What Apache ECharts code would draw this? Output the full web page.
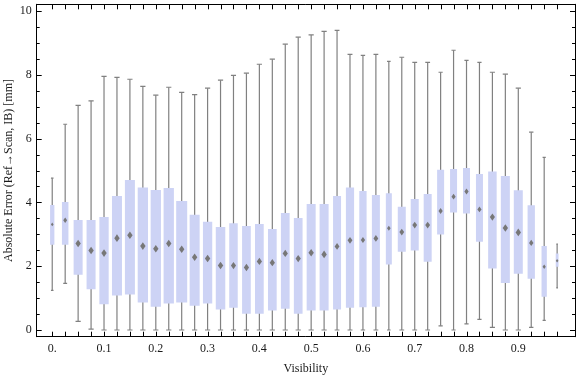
<!DOCTYPE html>
<html>
<head>
<meta charset="utf-8">
<script src="https://cdn.jsdelivr.net/npm/echarts@6/dist/echarts.min.js"></script>
<style>html,body{margin:0;padding:0;background:#fff}#c{width:576px;height:377px}</style>
</head>
<body>
<div id="c"></div>
<script>
// ---- data ----
const visibility = [0,0.025,0.05,0.075,0.1,0.125,0.15,0.175,0.2,0.225,0.25,0.275,0.3,0.325,0.35,0.375,0.4,0.425,0.45,0.475,0.5,0.525,0.55,0.575,0.6,0.625,0.65,0.675,0.7,0.725,0.75,0.775,0.8,0.825,0.85,0.875,0.9,0.925,0.95,0.975];
const whiskerLow = [1.24,1.46,0.27,0.03,0,0,0,0,0,0,0,0,0,0,0,0,0,0,0,0,0,0,0,0,0,0,0,0,0,0,0.13,0,0.19,0.33,0.08,0,0,0.08,0.3,1.32];
const q1 = [2.67,2.67,1.73,1.28,0.81,1.08,1.11,0.86,0.73,0.83,0.86,0.76,0.83,0.64,0.70,0.51,0.51,0.61,0.67,0.51,0.61,0.61,0.64,0.70,0.71,0.73,2.05,2.45,2.49,2.14,2.99,3.68,3.65,2.77,1.93,1.47,1.76,1.61,1.04,1.98];
const meanVal = [3.31,3.44,2.71,2.49,2.41,2.88,2.97,2.63,2.55,2.71,2.53,2.28,2.24,2.02,2.02,1.96,2.15,2.11,2.40,2.24,2.42,2.37,2.62,2.81,2.82,2.87,3.19,3.07,3.29,3.29,3.73,4.18,4.34,3.78,3.54,3.20,3.06,2.73,1.98,2.17];
const q3 = [3.92,4.01,3.45,3.45,3.54,4.20,4.70,4.47,4.39,4.45,4.04,3.61,3.39,3.23,3.35,3.26,3.32,3.17,3.67,3.51,3.95,3.95,4.20,4.47,4.36,4.23,4.29,3.86,4.11,4.26,5.02,5.05,5.08,4.89,4.97,4.83,4.38,3.91,2.63,2.40];
const whiskerHigh = [4.76,6.45,7.04,7.18,7.95,7.92,7.86,7.64,7.36,7.61,7.45,7.38,7.58,7.83,7.98,8.05,8.33,8.49,8.96,9.18,9.25,9.36,9.39,8.64,8.61,8.64,8.42,8.55,8.39,8.39,8.08,8.77,8.45,8.39,8.08,8.02,7.58,6.20,5.41,2.69];
const xTickLabels = [0,0.1,0.2,0.3,0.4,0.5,0.6,0.7,0.8,0.9];
const yTickLabels = [0,2,4,6,8,10];
const yMinorTicks = [0,0.5,1,1.5,2,2.5,3,3.5,4,4.5,5,5.5,6,6.5,7,7.5,8,8.5,9,9.5,10];

// ---- style / layout ----
const boxWidthPx = [4.3,6.5,9,9,9.3,10,10,10.3,10.3,10.3,11,10,9.3,9.5,8.5,8.7,8.7,8.7,8.7,8.7,9,9,8,8.2,7.3,8,6,8,8,8,7,7,7,7,8.5,9,9,7.3,5.3,2.8];
const BOX_FILL = '#cdd3f5';
const WHISKER = '#808080';
const MARK = '#777777';
const FONT = 'Liberation Serif';
const TXT = '#1a1a1a';
const W = 576, H = 377;
const frame = { l: 36.7, r: 575, t: 4.3, b: 336.7 };
const X_RANGE = [-0.03, 1.0095];
const Y_RANGE = [-0.21, 10.21];
const X_STEP = 0.025, Y_MAJOR = 2;
const MAJOR_LEN = 5, MINOR_LEN = 3, X_TICK_LEN = 5;
const sx = (frame.r - frame.l) / (X_RANGE[1] - X_RANGE[0]);
const sy = (frame.b - frame.t) / (Y_RANGE[1] - Y_RANGE[0]);
const xTickMin = visibility[0], xTickMax = visibility[visibility.length - 1];
const yTickMin = yTickLabels[0], yTickMax = yTickLabels[yTickLabels.length - 1];
const pxX = v => frame.l + (v - X_RANGE[0]) * sx;
const pxY = v => frame.b - (v - Y_RANGE[0]) * sy;

const seriesData = visibility.map((v, i) => [v, whiskerLow[i], q1[i], meanVal[i], q3[i], whiskerHigh[i]]);

// tick marks: [x, y, kind] kind 0 = x tick, 1 = y minor, 2 = y major
const tickData = []
  .concat(visibility.map(v => [v, yTickMin, 0]))
  .concat(yMinorTicks.map(v => [xTickMin, v, 1]))
  .concat(yTickLabels.map(v => [xTickMin, v, 2]));

function renderItem(params, api) {
  const x = api.value(0);
  const pLo = api.coord([x, api.value(1)]);
  const pQ1 = api.coord([x, api.value(2)]);
  const pM = api.coord([x, api.value(3)]);
  const pQ3 = api.coord([x, api.value(4)]);
  const pHi = api.coord([x, api.value(5)]);
  const w = boxWidthPx[params.dataIndex];
  const cx = pM[0];
  const cap = Math.min(2.6, w * 0.3);
  const hw = Math.max(1.3, Math.min(2.7, w * 0.3));
  const hh = hw * 1.4;
  const ls = { stroke: WHISKER, lineWidth: 1.2 };
  return {
    type: 'group',
    children: [
      { type: 'line', shape: { x1: cx, y1: pLo[1], x2: cx, y2: pHi[1] }, style: ls },
      { type: 'line', shape: { x1: cx - cap, y1: pLo[1], x2: cx + cap, y2: pLo[1] }, style: ls },
      { type: 'line', shape: { x1: cx - cap, y1: pHi[1], x2: cx + cap, y2: pHi[1] }, style: ls },
      { type: 'rect', shape: { x: cx - w / 2, y: pQ3[1], width: w, height: pQ1[1] - pQ3[1] }, style: { fill: BOX_FILL } },
      { type: 'polygon', shape: { points: [[cx, pM[1] - hh], [cx + hw, pM[1]], [cx, pM[1] + hh], [cx - hw, pM[1]]] }, style: { fill: MARK } }
    ]
  };
}

function renderTick(params, api) {
  const cs = params.coordSys;
  const kind = api.value(2);
  const p = api.coord([api.value(0), api.value(1)]);
  const st = { stroke: '#000', lineWidth: 1 };
  if (kind === 0) {
    const x = Math.round(p[0]) + 0.5;
    const yT = cs.y, yB = cs.y + cs.height;
    return { type: 'group', children: [
      { type: 'line', shape: { x1: x, y1: yT, x2: x, y2: yT + X_TICK_LEN }, style: st },
      { type: 'line', shape: { x1: x, y1: yB, x2: x, y2: yB - X_TICK_LEN }, style: st }
    ] };
  }
  const len = kind === 2 ? MAJOR_LEN : MINOR_LEN;
  const y = Math.round(p[1]) + 0.5;
  const xL = cs.x, xR = cs.x + cs.width;
  return { type: 'group', children: [
    { type: 'line', shape: { x1: xL, y1: y, x2: xL + len, y2: y }, style: st },
    { type: 'line', shape: { x1: xR, y1: y, x2: xR - len, y2: y }, style: st }
  ] };
}

const lineOn = { show: true, onZero: false, lineStyle: { color: '#000', width: 1 } };
const off = { show: false };
const noLine = { show: false, onZero: false };

const grid = [
  { left: frame.l, right: W - frame.r, top: frame.t, bottom: H - frame.b, outerBoundsMode: 'none' },                          // 0 main
  { left: pxX(xTickMin), right: W - pxX(xTickMax), top: frame.b - X_TICK_LEN, bottom: H - frame.b, outerBoundsMode: 'none' }, // 1 x labels
  { left: frame.l, width: MAJOR_LEN, top: pxY(yTickMax), bottom: H - pxY(yTickMin), outerBoundsMode: 'none' }                // 2 y labels
];

const xAxis = [
  { gridIndex: 0, type: 'value', min: X_RANGE[0], max: X_RANGE[1], position: 'bottom', axisLine: lineOn, axisTick: off, axisLabel: off, splitLine: off,
    name: 'Visibility', nameLocation: 'middle', nameGap: 26, nameMoveOverlap: false,
    nameTextStyle: { fontFamily: FONT, fontSize: 12, color: TXT } },
  { gridIndex: 0, type: 'value', min: X_RANGE[0], max: X_RANGE[1], position: 'top', axisLine: lineOn, axisTick: off, axisLabel: off, splitLine: off },
  { gridIndex: 1, type: 'value', min: xTickMin, max: xTickMax, interval: X_STEP, position: 'bottom', axisLine: noLine, axisTick: off, splitLine: off,
    axisLabel: { show: true, margin: 6, customValues: xTickLabels, fontFamily: FONT, fontSize: 12, color: TXT,
      formatter: v => (Math.abs(v) < 1e-9 ? '0.' : (+v).toFixed(1)) } },
  { gridIndex: 2, type: 'value', min: 0, max: 1, show: false }
];

const yAxis = [
  { gridIndex: 0, type: 'value', min: Y_RANGE[0], max: Y_RANGE[1], position: 'left', axisLine: lineOn, axisTick: off, axisLabel: off, splitLine: off,
    name: 'Absolute Error (Ref\u2192Scan, IB) [mm]', nameLocation: 'middle', nameGap: 22, nameRotate: 90, nameMoveOverlap: false,
    nameTextStyle: { fontFamily: FONT, fontSize: 12, color: TXT } },
  { gridIndex: 0, type: 'value', min: Y_RANGE[0], max: Y_RANGE[1], position: 'right', axisLine: lineOn, axisTick: off, axisLabel: off, splitLine: off },
  { gridIndex: 1, type: 'value', min: 0, max: 1, show: false },
  { gridIndex: 2, type: 'value', min: yTickMin, max: yTickMax, interval: Y_MAJOR, position: 'left', axisLine: noLine, axisTick: off, splitLine: off,
    axisLabel: { show: true, margin: 5, fontFamily: FONT, fontSize: 12, color: TXT } }
];

const option = {
  animation: false,
  backgroundColor: '#fff',
  grid: grid,
  xAxis: xAxis,
  yAxis: yAxis,
  series: [
    { type: 'custom', xAxisIndex: 0, yAxisIndex: 0, renderItem: renderItem, data: seriesData, clip: true, z: 1 },
    { type: 'custom', xAxisIndex: 0, yAxisIndex: 0, renderItem: renderTick, data: tickData, clip: false, z: 5, silent: true }
  ]
};

const chart = echarts.init(document.getElementById('c'), null, { renderer: 'canvas' });
chart.setOption(option);
</script>
</body>
</html>
